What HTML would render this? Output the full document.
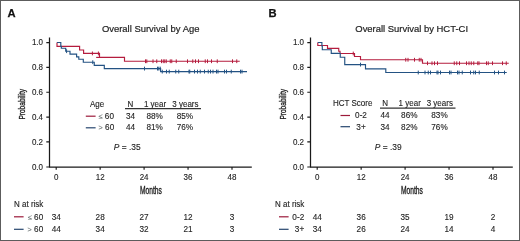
<!DOCTYPE html>
<html><head><meta charset="utf-8"><style>
html,body{margin:0;padding:0;background:#fff;}
body{width:520px;height:241px;overflow:hidden;}
svg{display:block;will-change:transform;font-family:"Liberation Sans",sans-serif;}
text{stroke:#1f1f1f;stroke-width:0.12px;}
text.b{stroke-width:0.35px;}
text.t{stroke-width:0.2px;}
.g{fill:#6f7777;stroke:#6f7777;font-size:7.2px;}
</style></head><body>
<svg width="520" height="241" viewBox="0 0 520 241" fill="#1f1f1f">
<rect x="0.5" y="0.5" width="519" height="240" fill="#fff" stroke="#5c5c5c" stroke-width="1"/>
<text x="7.40" y="16.9" font-size="11.2" font-weight="bold" fill="#111" style="stroke:#111;stroke-width:0.25px">A</text>
<text transform="translate(150.65,31.80) scale(1.0,1.04)" font-size="9.45" text-anchor="middle" class="t">Overall Survival by Age</text>
<path d="M49.5,37.5 V167 M49,167 H251.8" stroke="#1a1a1a" stroke-width="1.25" fill="none"/>
<text transform="translate(43.00,169.70) scale(1.0,1.04)" font-size="8.0" text-anchor="end">0.0</text>
<text transform="translate(43.00,144.61) scale(1.0,1.04)" font-size="8.0" text-anchor="end">0.2</text>
<text transform="translate(43.00,119.77) scale(1.0,1.04)" font-size="8.0" text-anchor="end">0.4</text>
<text transform="translate(43.00,94.93) scale(1.0,1.04)" font-size="8.0" text-anchor="end">0.6</text>
<text transform="translate(43.00,70.09) scale(1.0,1.04)" font-size="8.0" text-anchor="end">0.8</text>
<text transform="translate(43.00,45.25) scale(1.0,1.04)" font-size="8.0" text-anchor="end">1.0</text>
<text transform="translate(56.20,180.00) scale(1.0,1.04)" font-size="8.0" text-anchor="middle">0</text>
<text transform="translate(100.15,180.00) scale(1.0,1.04)" font-size="8.0" text-anchor="middle">12</text>
<text transform="translate(144.10,180.00) scale(1.0,1.04)" font-size="8.0" text-anchor="middle">24</text>
<text transform="translate(188.05,180.00) scale(1.0,1.04)" font-size="8.0" text-anchor="middle">36</text>
<text transform="translate(232.00,180.00) scale(1.0,1.04)" font-size="8.0" text-anchor="middle">48</text>
<path d="M46.3,167.00 H49.5 M46.3,141.91 H49.5 M46.3,117.07 H49.5 M46.3,92.23 H49.5 M46.3,67.39 H49.5 M46.3,42.55 H49.5 M56.20,167 V169.8 M100.15,167 V169.8 M144.10,167 V169.8 M188.05,167 V169.8 M232.00,167 V169.8 " stroke="#1a1a1a" stroke-width="1.15" fill="none"/>
<text transform="translate(150.9,193.6) scale(0.67,1)" font-size="10" text-anchor="middle" class="b">Months</text>
<text transform="translate(24.8,104.3) rotate(-90) scale(0.67,1)" font-size="9.8" text-anchor="middle" class="b">Probability</text>
<text x="268.40" y="16.9" font-size="11.2" font-weight="bold" fill="#111" style="stroke:#111;stroke-width:0.25px">B</text>
<text transform="translate(411.65,31.80) scale(1.0,1.04)" font-size="9.45" text-anchor="middle" class="t">Overall Survival by HCT-CI</text>
<path d="M310.5,37.5 V167 M310,167 H512.8" stroke="#1a1a1a" stroke-width="1.25" fill="none"/>
<text transform="translate(304.00,169.70) scale(1.0,1.04)" font-size="8.0" text-anchor="end">0.0</text>
<text transform="translate(304.00,144.61) scale(1.0,1.04)" font-size="8.0" text-anchor="end">0.2</text>
<text transform="translate(304.00,119.77) scale(1.0,1.04)" font-size="8.0" text-anchor="end">0.4</text>
<text transform="translate(304.00,94.93) scale(1.0,1.04)" font-size="8.0" text-anchor="end">0.6</text>
<text transform="translate(304.00,70.09) scale(1.0,1.04)" font-size="8.0" text-anchor="end">0.8</text>
<text transform="translate(304.00,45.25) scale(1.0,1.04)" font-size="8.0" text-anchor="end">1.0</text>
<text transform="translate(317.20,180.00) scale(1.0,1.04)" font-size="8.0" text-anchor="middle">0</text>
<text transform="translate(361.15,180.00) scale(1.0,1.04)" font-size="8.0" text-anchor="middle">12</text>
<text transform="translate(405.10,180.00) scale(1.0,1.04)" font-size="8.0" text-anchor="middle">24</text>
<text transform="translate(449.05,180.00) scale(1.0,1.04)" font-size="8.0" text-anchor="middle">36</text>
<text transform="translate(493.00,180.00) scale(1.0,1.04)" font-size="8.0" text-anchor="middle">48</text>
<path d="M307.3,167.00 H310.5 M307.3,141.91 H310.5 M307.3,117.07 H310.5 M307.3,92.23 H310.5 M307.3,67.39 H310.5 M307.3,42.55 H310.5 M317.20,167 V169.8 M361.15,167 V169.8 M405.10,167 V169.8 M449.05,167 V169.8 M493.00,167 V169.8 " stroke="#1a1a1a" stroke-width="1.15" fill="none"/>
<text transform="translate(411.9,193.6) scale(0.67,1)" font-size="10" text-anchor="middle" class="b">Months</text>
<text transform="translate(285.8,104.3) rotate(-90) scale(0.67,1)" font-size="9.8" text-anchor="middle" class="b">Probability</text>
<path d="M57.0,42.5 H57.0 V46.3 H79.6 V50.0 H83.6 V53.4 H99.5 V57.4 H124.5 V61.25 H239.75" stroke="#b51c3e" stroke-width="1.15" fill="none"/>
<path d="M92.40,51.50 V55.30 M98.40,51.50 V55.30 M145.50,59.35 V63.15 M146.80,59.35 V63.15 M153.00,59.35 V63.15 M156.75,59.35 V63.15 M161.50,59.35 V63.15 M163.25,59.35 V63.15 M164.75,59.35 V63.15 M166.25,59.35 V63.15 M170.25,59.35 V63.15 M171.75,59.35 V63.15 M176.25,59.35 V63.15 M187.50,59.35 V63.15 M192.75,59.35 V63.15 M195.50,59.35 V63.15 M198.50,59.35 V63.15 M205.25,59.35 V63.15 M207.50,59.35 V63.15 M211.50,59.35 V63.15 M217.25,59.35 V63.15 M232.50,59.35 V63.15 M236.75,59.35 V63.15 " stroke="#b51c3e" stroke-width="1" fill="none"/>
<path d="M57.0,42.5 H60.8 V46.3 H61.3 V48.25 H65.7 V51.2 H70 V54.1 H76.6 V56.8 H78.8 V59.2 H83.3 V62.2 H94.25 V65.3 H104.3 V68.6 H160.6 V71.6 H247" stroke="#235283" stroke-width="1.15" fill="none"/>
<path d="M66.60,49.30 V53.10 M92.75,60.30 V64.10 M144.50,66.70 V70.50 M157.50,66.70 V70.50 M158.75,66.70 V70.50 M160.25,66.70 V70.50 M162.25,69.70 V73.50 M166.50,69.70 V73.50 M169.25,69.70 V73.50 M175.75,69.70 V73.50 M178.75,69.70 V73.50 M189.00,69.70 V73.50 M189.75,69.70 V73.50 M194.50,69.70 V73.50 M197.50,69.70 V73.50 M200.25,69.70 V73.50 M204.50,69.70 V73.50 M208.25,69.70 V73.50 M210.50,69.70 V73.50 M213.00,69.70 V73.50 M216.50,69.70 V73.50 M218.00,69.70 V73.50 M224.50,69.70 V73.50 M226.50,69.70 V73.50 M231.25,69.70 V73.50 M240.50,69.70 V73.50 M242.00,69.70 V73.50 " stroke="#235283" stroke-width="1" fill="none"/>
<path d="M96.15,57.4 H99.5" stroke="#b51c3e" stroke-width="1.15"/>
<path d="M317.8,42.5 H317.8 V45.5 H327.5 V48.3 H338.75 V51.2 H340 V53.5 H354.5 V56.5 H360.5 V59.75 H422.5 V63.25 H508.75" stroke="#b51c3e" stroke-width="1.15" fill="none"/>
<path d="M353.25,51.60 V55.40 M405.75,57.85 V61.65 M408.00,57.85 V61.65 M414.50,57.85 V61.65 M419.25,57.85 V61.65 M421.00,57.85 V61.65 M427.50,61.35 V65.15 M432.00,61.35 V65.15 M434.50,61.35 V65.15 M437.50,61.35 V65.15 M454.25,61.35 V65.15 M456.75,61.35 V65.15 M459.50,61.35 V65.15 M466.50,61.35 V65.15 M469.00,61.35 V65.15 M471.25,61.35 V65.15 M473.75,61.35 V65.15 M477.75,61.35 V65.15 M479.00,61.35 V65.15 M486.50,61.35 V65.15 M488.25,61.35 V65.15 M492.50,61.35 V65.15 M502.50,61.35 V65.15 M506.25,61.35 V65.15 " stroke="#b51c3e" stroke-width="1" fill="none"/>
<path d="M317.8,42.5 H321.9 V46 H322.3 V49.75 H331.25 V53.3 H340.25 V57.2 H344.75 V64.6 H365.5 V68.8 H385.8 V72.5 H506.75" stroke="#235283" stroke-width="1.15" fill="none"/>
<path d="M360.50,62.70 V66.50 M418.25,70.60 V74.40 M425.00,70.60 V74.40 M428.25,70.60 V74.40 M430.50,70.60 V74.40 M437.00,70.60 V74.40 M438.00,70.60 V74.40 M440.50,70.60 V74.40 M449.50,70.60 V74.40 M451.00,70.60 V74.40 M457.50,70.60 V74.40 M459.00,70.60 V74.40 M462.25,70.60 V74.40 M470.50,70.60 V74.40 M473.75,70.60 V74.40 M475.50,70.60 V74.40 M479.25,70.60 V74.40 M494.50,70.60 V74.40 M498.50,70.60 V74.40 M504.50,70.60 V74.40 " stroke="#235283" stroke-width="1" fill="none"/>
<text transform="translate(90.00,106.60) scale(1.0,1.04)" font-size="8.0" text-anchor="start">Age</text>
<text transform="translate(130.50,106.60) scale(1.0,1.04)" font-size="8.0" text-anchor="middle">N</text>
<text transform="translate(155.00,106.60) scale(1.0,1.04)" font-size="8.0" text-anchor="middle">1 year</text>
<text transform="translate(185.40,106.60) scale(1.0,1.04)" font-size="8.0" text-anchor="middle">3 years</text>
<path d="M125,108.6 H201" stroke="#333" stroke-width="1.05"/>
<path d="M85.8,116.2 H95.6" stroke="#9c1a3a" stroke-width="1.2"/>
<path d="M85.8,127.8 H95.6" stroke="#26466e" stroke-width="1.2"/>
<text transform="translate(98.60,118.90) scale(1.0,1.04)" font-size="8.2" text-anchor="start"><tspan class="g">≤</tspan> 60</text>
<text transform="translate(98.60,130.30) scale(1.0,1.04)" font-size="8.2" text-anchor="start"><tspan class="g">&gt;</tspan> 60</text>
<text transform="translate(130.50,118.90) scale(1.0,1.04)" font-size="8.2" text-anchor="middle">34</text>
<text transform="translate(130.50,130.30) scale(1.0,1.04)" font-size="8.2" text-anchor="middle">44</text>
<text transform="translate(154.60,118.90) scale(1.0,1.04)" font-size="8.2" text-anchor="middle">88%</text>
<text transform="translate(154.60,130.30) scale(1.0,1.04)" font-size="8.2" text-anchor="middle">81%</text>
<text transform="translate(184.90,118.90) scale(1.0,1.04)" font-size="8.2" text-anchor="middle">85%</text>
<text transform="translate(184.90,130.30) scale(1.0,1.04)" font-size="8.2" text-anchor="middle">76%</text>
<text transform="translate(333.00,106.10) scale(1.0,1.04)" font-size="8.0" text-anchor="start">HCT Score</text>
<text transform="translate(385.20,106.10) scale(1.0,1.04)" font-size="8.0" text-anchor="middle">N</text>
<text transform="translate(409.70,106.10) scale(1.0,1.04)" font-size="8.0" text-anchor="middle">1 year</text>
<text transform="translate(439.80,106.10) scale(1.0,1.04)" font-size="8.0" text-anchor="middle">3 years</text>
<path d="M380,108.1 H455.5" stroke="#333" stroke-width="1.05"/>
<path d="M340.5,115.5 H350" stroke="#9c1a3a" stroke-width="1.2"/>
<path d="M340.5,126.7 H350" stroke="#26466e" stroke-width="1.2"/>
<text transform="translate(361.00,118.10) scale(1.0,1.04)" font-size="8.2" text-anchor="middle">0-2</text>
<text transform="translate(361.00,129.60) scale(1.0,1.04)" font-size="8.2" text-anchor="middle">3+</text>
<text transform="translate(385.10,118.10) scale(1.0,1.04)" font-size="8.2" text-anchor="middle">44</text>
<text transform="translate(385.10,129.60) scale(1.0,1.04)" font-size="8.2" text-anchor="middle">34</text>
<text transform="translate(409.30,118.10) scale(1.0,1.04)" font-size="8.2" text-anchor="middle">86%</text>
<text transform="translate(409.30,129.60) scale(1.0,1.04)" font-size="8.2" text-anchor="middle">82%</text>
<text transform="translate(439.50,118.10) scale(1.0,1.04)" font-size="8.2" text-anchor="middle">83%</text>
<text transform="translate(439.50,129.60) scale(1.0,1.04)" font-size="8.2" text-anchor="middle">76%</text>
<text transform="translate(113.80,149.70) scale(1.0,1.04)" font-size="8.4" text-anchor="start"><tspan font-style="italic">P</tspan> = .35</text>
<text transform="translate(374.80,149.70) scale(1.0,1.04)" font-size="8.4" text-anchor="start"><tspan font-style="italic">P</tspan> = .39</text>
<text transform="translate(14.00,206.70) scale(1.0,1.04)" font-size="8.0" text-anchor="start">N at risk</text>
<path d="M14,216.8 H23.6" stroke="#9c1a3a" stroke-width="1.2"/>
<text transform="translate(43.20,219.50) scale(1.0,1.04)" font-size="8.2" text-anchor="end"><tspan class="g">≤</tspan> 60</text>
<text transform="translate(56.20,219.50) scale(1.0,1.04)" font-size="8.2" text-anchor="middle">34</text>
<text transform="translate(100.15,219.50) scale(1.0,1.04)" font-size="8.2" text-anchor="middle">28</text>
<text transform="translate(144.10,219.50) scale(1.0,1.04)" font-size="8.2" text-anchor="middle">27</text>
<text transform="translate(188.05,219.50) scale(1.0,1.04)" font-size="8.2" text-anchor="middle">12</text>
<text transform="translate(232.00,219.50) scale(1.0,1.04)" font-size="8.2" text-anchor="middle">3</text>
<path d="M14,229.3 H23.6" stroke="#26466e" stroke-width="1.2"/>
<text transform="translate(43.20,232.10) scale(1.0,1.04)" font-size="8.2" text-anchor="end"><tspan class="g">&gt;</tspan> 60</text>
<text transform="translate(56.20,232.10) scale(1.0,1.04)" font-size="8.2" text-anchor="middle">44</text>
<text transform="translate(100.15,232.10) scale(1.0,1.04)" font-size="8.2" text-anchor="middle">34</text>
<text transform="translate(144.10,232.10) scale(1.0,1.04)" font-size="8.2" text-anchor="middle">32</text>
<text transform="translate(188.05,232.10) scale(1.0,1.04)" font-size="8.2" text-anchor="middle">21</text>
<text transform="translate(232.00,232.10) scale(1.0,1.04)" font-size="8.2" text-anchor="middle">3</text>
<text transform="translate(275.00,206.70) scale(1.0,1.04)" font-size="8.0" text-anchor="start">N at risk</text>
<path d="M279,216.8 H288.6" stroke="#9c1a3a" stroke-width="1.2"/>
<text transform="translate(304.20,219.50) scale(1.0,1.04)" font-size="8.2" text-anchor="end">0-2</text>
<text transform="translate(317.20,219.50) scale(1.0,1.04)" font-size="8.2" text-anchor="middle">44</text>
<text transform="translate(361.15,219.50) scale(1.0,1.04)" font-size="8.2" text-anchor="middle">36</text>
<text transform="translate(405.10,219.50) scale(1.0,1.04)" font-size="8.2" text-anchor="middle">35</text>
<text transform="translate(449.05,219.50) scale(1.0,1.04)" font-size="8.2" text-anchor="middle">19</text>
<text transform="translate(493.00,219.50) scale(1.0,1.04)" font-size="8.2" text-anchor="middle">2</text>
<path d="M279,229.3 H288.6" stroke="#26466e" stroke-width="1.2"/>
<text transform="translate(304.20,232.10) scale(1.0,1.04)" font-size="8.2" text-anchor="end">3+</text>
<text transform="translate(317.20,232.10) scale(1.0,1.04)" font-size="8.2" text-anchor="middle">34</text>
<text transform="translate(361.15,232.10) scale(1.0,1.04)" font-size="8.2" text-anchor="middle">26</text>
<text transform="translate(405.10,232.10) scale(1.0,1.04)" font-size="8.2" text-anchor="middle">24</text>
<text transform="translate(449.05,232.10) scale(1.0,1.04)" font-size="8.2" text-anchor="middle">14</text>
<text transform="translate(493.00,232.10) scale(1.0,1.04)" font-size="8.2" text-anchor="middle">4</text>
</svg>
</body></html>
